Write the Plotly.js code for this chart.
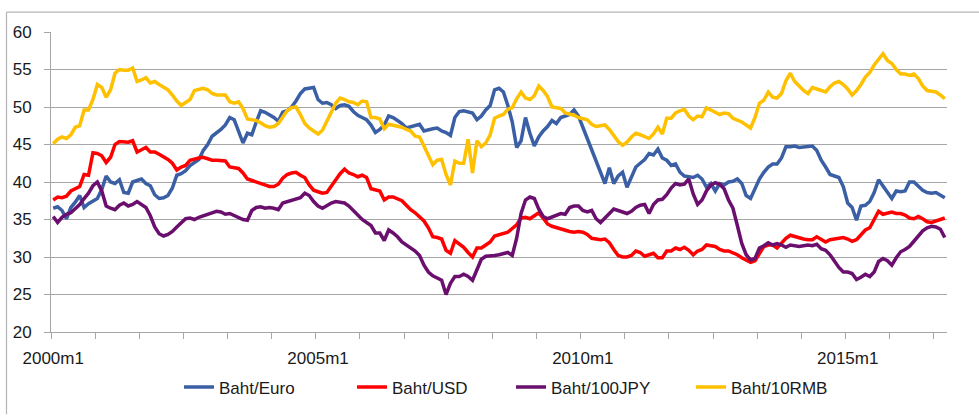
<!DOCTYPE html>
<html>
<head>
<meta charset="utf-8">
<script src="https://cdn.plot.ly/plotly-3.0.1.min.js"></script>
<style>
html,body{margin:0;padding:0;background:#fff;}
#chart{width:979px;height:418px;}
</style>
</head>
<body>
<div id="chart"></div>
<script>
// Monthly categories 2000m1 .. 2016m11
const years = [2000,2001,2002,2003,2004,2005,2006,2007,2008,2009,2010,2011,2012,2013,2014,2015,2016];
const months = [1,2,3,4,5,6,7,8,9,10,11,12];
const categories = [];
years.forEach(y => months.forEach(m => categories.push(y + "m" + m)));
categories.length = 203;

const seriesNames = ["Baht/Euro", "Baht/USD", "Baht/100JPY", "Baht/10RMB"];
const seriesColors = ["#3A5FA5", "#FF0000", "#6B0F6E", "#FFC000"];

const bahtEuro = [
36.5,36.7,36.2,35.1,36.6,37.3,38.2,36.6,37.1,37.4,37.8,39.0,
40.8,40.0,39.8,40.3,38.6,38.5,40.0,40.2,40.4,39.8,39.5,38.3,
37.8,37.9,38.2,39.2,40.9,41.1,41.5,42.2,42.6,43.0,44.2,45.0,
46.1,46.5,47.0,47.6,48.6,48.3,46.8,45.2,46.5,46.3,48.0,49.5,
49.3,49.0,48.6,48.1,49.3,49.5,50.0,50.8,51.8,52.4,52.5,52.6,
51.0,50.5,50.6,50.3,49.8,50.2,50.3,50.1,49.4,48.9,48.6,48.3,
47.6,46.6,47.0,47.6,48.8,48.6,48.2,47.8,47.2,47.4,47.6,47.7,
46.8,47.0,47.1,47.2,46.8,46.6,46.2,48.6,49.4,49.5,49.3,49.2,
48.3,48.8,49.6,50.2,52.3,52.5,52.0,50.2,48.0,44.6,45.5,48.6,
46.5,44.8,46.0,46.8,47.4,48.2,47.8,48.6,48.8,49.0,49.6,48.8,
47.3,45.8,44.5,42.9,41.5,39.8,41.9,39.8,40.8,41.3,39.3,40.6,
42.0,42.5,43.0,43.8,43.6,44.4,43.2,42.9,42.2,42.4,41.3,40.8,
40.7,40.6,40.9,40.4,39.3,39.8,38.8,39.8,39.6,40.0,40.1,40.4,
39.8,38.2,37.8,39.1,40.4,41.3,42.0,42.4,42.4,43.2,44.7,44.7,
44.8,44.6,44.7,44.7,44.8,44.2,42.9,42.0,41.0,40.8,40.6,39.4,
37.2,36.6,34.9,36.8,36.9,37.4,38.6,40.3,39.5,38.6,37.8,38.8,
38.7,38.8,40.0,40.0,39.4,38.9,38.6,38.5,38.6,38.3,37.9
];

const bahtUSD = [
37.6,38.0,37.9,38.1,38.8,39.1,39.4,41.0,40.9,43.9,43.8,43.5,
42.6,43.3,45.0,45.4,45.3,45.3,45.5,44.0,44.3,44.6,44.0,44.0,
43.7,43.4,43.0,42.5,41.6,42.0,42.2,42.9,43.1,43.2,43.3,43.1,
42.9,42.9,42.9,42.8,42.0,41.9,41.8,41.2,40.4,40.2,40.0,39.7,
39.6,39.4,39.4,39.7,40.5,41.0,41.2,41.3,40.9,40.6,39.6,38.9,
38.7,38.5,38.6,39.5,40.2,41.1,41.7,41.2,41.0,40.7,40.9,40.6,
39.1,39.0,38.8,37.6,38.0,38.0,37.7,37.5,36.9,36.3,35.9,35.4,
34.8,33.9,32.7,32.6,32.4,30.9,30.5,32.2,31.8,31.3,30.6,30.0,
31.2,31.2,31.6,32.0,32.8,33.0,33.1,33.3,33.8,34.3,35.2,35.3,
35.1,35.5,35.9,35.2,34.4,34.1,33.9,33.8,33.5,33.4,33.3,33.4,
33.3,33.0,32.5,32.4,32.3,32.4,31.9,31.0,30.2,30.0,30.0,30.2,
30.8,30.6,30.1,30.3,30.5,29.9,29.9,30.8,30.8,31.2,31.0,31.3,
30.9,30.3,30.8,31.0,31.6,31.5,31.4,31.0,30.8,30.8,30.6,30.3,
29.9,29.6,29.3,29.5,30.5,31.4,31.6,31.6,31.2,31.9,32.5,32.9,
32.7,32.6,32.4,32.3,32.3,32.7,32.3,32.0,32.3,32.4,32.6,32.6,
32.4,32.1,32.3,32.9,33.6,33.9,35.0,36.1,35.7,35.8,36.0,35.8,
35.8,35.6,35.2,35.1,35.4,35.1,34.7,34.6,34.8,35.1,35.2
];

const baht100JPY = [
35.4,34.6,35.3,35.7,35.9,36.5,37.0,37.8,38.5,39.5,40.0,38.8,
36.8,36.5,36.3,36.9,37.2,36.8,37.0,37.4,37.0,36.6,35.5,34.0,
33.1,32.8,33.0,33.4,34.0,34.6,35.1,35.2,35.0,35.3,35.5,35.6,
35.8,36.1,36.0,35.7,35.8,35.5,35.2,35.0,34.9,36.2,36.6,36.7,
36.5,36.6,36.5,36.3,37.2,37.4,37.6,37.7,37.9,38.5,38.2,37.4,
36.8,36.5,36.9,37.2,37.4,37.3,37.2,36.8,36.2,35.6,35.0,34.6,
34.2,33.2,33.2,32.2,33.6,33.2,32.7,32.0,31.6,31.2,30.8,30.2,
28.9,28.0,27.5,27.2,26.9,25.0,26.5,27.4,27.4,27.7,27.4,26.9,
28.4,29.7,30.1,30.1,30.2,30.3,30.4,30.6,30.2,32.5,35.8,37.6,
38.0,37.8,36.4,35.4,35.1,35.3,35.6,35.8,35.7,36.6,36.8,36.8,
36.2,36.0,36.2,35.1,34.6,35.2,35.9,36.4,36.2,36.0,35.8,36.1,
36.6,36.9,37.0,35.8,37.0,37.6,37.7,38.3,39.2,39.8,39.6,39.7,
40.4,38.4,37.0,37.6,38.8,39.6,39.9,39.7,39.1,37.6,36.5,34.2,
31.8,30.3,29.6,29.8,31.2,31.5,31.9,31.6,31.8,31.6,31.3,31.6,
31.5,31.4,31.5,31.6,31.5,31.7,31.1,30.9,30.3,29.5,28.6,28.0,
28.0,27.8,27.0,27.3,27.7,27.4,28.0,29.4,29.8,29.5,28.9,29.9,
30.7,31.0,31.4,32.1,32.8,33.5,33.9,34.1,34.0,33.7,32.6
];

const baht10RMB = [
45.1,45.7,46.0,45.8,46.3,47.3,47.5,49.6,49.6,51.0,53.0,52.6,
51.3,52.3,54.5,55.0,54.9,54.9,55.2,53.4,53.6,53.9,53.2,53.4,
53.0,52.6,52.3,51.6,50.8,50.2,50.6,51.0,52.2,52.4,52.5,52.3,
51.8,51.6,51.6,51.6,50.7,50.5,50.7,49.8,48.4,48.3,48.2,47.9,
47.5,47.3,47.4,47.8,48.7,49.5,49.9,50.0,49.0,47.8,47.2,46.8,
46.4,46.9,48.0,49.3,50.5,51.2,51.0,50.7,50.6,50.3,50.8,50.7,
48.6,48.6,48.4,47.1,47.7,47.6,47.4,47.3,47.0,46.8,46.1,46.0,
44.8,43.6,42.3,42.9,43.0,41.0,39.6,42.8,42.5,42.5,45.7,41.2,
45.5,44.7,45.2,46.3,48.5,48.8,49.0,49.7,49.9,51.1,52.0,51.2,
51.0,51.5,52.8,52.2,51.4,50.0,49.9,49.8,49.2,49.1,48.9,48.6,
48.5,48.3,47.7,47.4,47.5,47.6,47.0,46.1,45.4,44.9,45.3,46.0,
46.5,46.3,46.0,45.8,46.4,47.3,46.4,48.5,48.5,49.2,49.5,49.7,
48.8,48.3,48.8,48.7,49.9,49.6,49.3,49.0,49.2,49.1,48.5,48.3,
48.0,47.6,47.2,48.6,50.5,50.9,52.0,51.3,51.2,51.8,53.5,54.5,
53.4,52.8,52.2,51.8,52.6,52.4,52.2,52.0,52.7,53.2,53.4,53.0,
52.4,51.6,52.2,53.0,54.0,54.6,55.6,56.4,57.1,56.2,55.8,55.0,
54.4,54.4,54.2,54.4,53.8,52.8,52.2,52.1,52.0,51.6,51.1
];

const yTicks = [20,25,30,35,40,45,50,55,60];
const labelCategories = ["2000m1", "2005m1", "2010m1", "2015m1"];

const allSeries = [bahtEuro, bahtUSD, baht100JPY, baht10RMB];
const xPos = categories.map((c, i) => i);
const legendIds = ["legend", "legend2", "legend3", "legend4"];

const traces = allSeries.map((vals, k) => ({
  type: "scatter",
  mode: "lines",
  name: seriesNames[k],
  legend: legendIds[k],
  x: xPos,
  y: vals,
  line: {color: seriesColors[k], width: 3.5},
  hoverinfo: "skip"
}));

const labelVals = labelCategories.map(c => categories.indexOf(c));
const boundaryTicks = [];
for (let k = 0; k <= 200; k += 10) boundaryTicks.push(k - 0.5);

const gridCol = "#A6A6A6";
const fontFam = "Liberation Sans, Arial, sans-serif";
const txtCol = "#1a1a1a";

const plotL = 51, plotW = 896, plotT = 32, plotH = 303;
const px2x = px => (px - plotL) / plotW;
const py2y = py => 1 - (py - plotT) / plotH;

// legend text start pixels
const legendTextStart = [218, 391, 550, 730];

const layout = {
  width: 979,
  height: 418,
  margin: {l: plotL, r: 979 - plotL - plotW, t: plotT, b: 418 - plotT - plotH},
  paper_bgcolor: "#ffffff",
  plot_bgcolor: "#ffffff",
  font: {family: fontFam, size: 17, color: txtCol},
  showlegend: true,
  xaxis: {
    type: "linear",
    range: [-0.5, categories.length - 0.5],
    tickmode: "array",
    tickvals: labelVals,
    ticktext: labelCategories,
    ticks: "",
    ticklabelstandoff: 11,
    showgrid: false,
    zeroline: false,
    showline: true,
    linecolor: gridCol,
    linewidth: 1,
    tickfont: {family: fontFam, size: 17, color: txtCol},
    minor: {
      tickmode: "array",
      tickvals: boundaryTicks,
      ticks: "outside",
      ticklen: 6,
      tickwidth: 1,
      tickcolor: gridCol,
      showgrid: false
    },
    fixedrange: true
  },
  yaxis: {
    range: [20, 60],
    tickmode: "array",
    tickvals: yTicks,
    ticktext: yTicks.map(String),
    ticks: "outside",
    ticklen: 6,
    tickcolor: gridCol,
    ticklabelstandoff: 9,
    showgrid: true,
    gridcolor: gridCol,
    gridwidth: 1,
    zeroline: false,
    showline: true,
    linecolor: gridCol,
    linewidth: 1,
    tickfont: {family: fontFam, size: 17, color: txtCol},
    fixedrange: true
  },
  shapes: [
    {type: "line", xref: "paper", yref: "paper", x0: px2x(6.5), x1: px2x(979), y0: py2y(12), y1: py2y(12), line: {color: "#B4B4B4", width: 1.2}},
    {type: "line", xref: "paper", yref: "paper", x0: px2x(6.5), x1: px2x(6.5), y0: py2y(12), y1: py2y(418), line: {color: "#B4B4B4", width: 1.2}}
  ]
};

legendIds.forEach((id, k) => {
  layout[id] = {
    orientation: "h",
    x: px2x(legendTextStart[k] - 39), xanchor: "left",
    y: py2y(391), yanchor: "middle",
    font: {family: fontFam, size: 17, color: txtCol},
    bgcolor: "rgba(0,0,0,0)",
    borderwidth: 0
  };
});

Plotly.newPlot("chart", traces, layout, {displayModeBar: false, staticPlot: true});
</script>
</body>
</html>
